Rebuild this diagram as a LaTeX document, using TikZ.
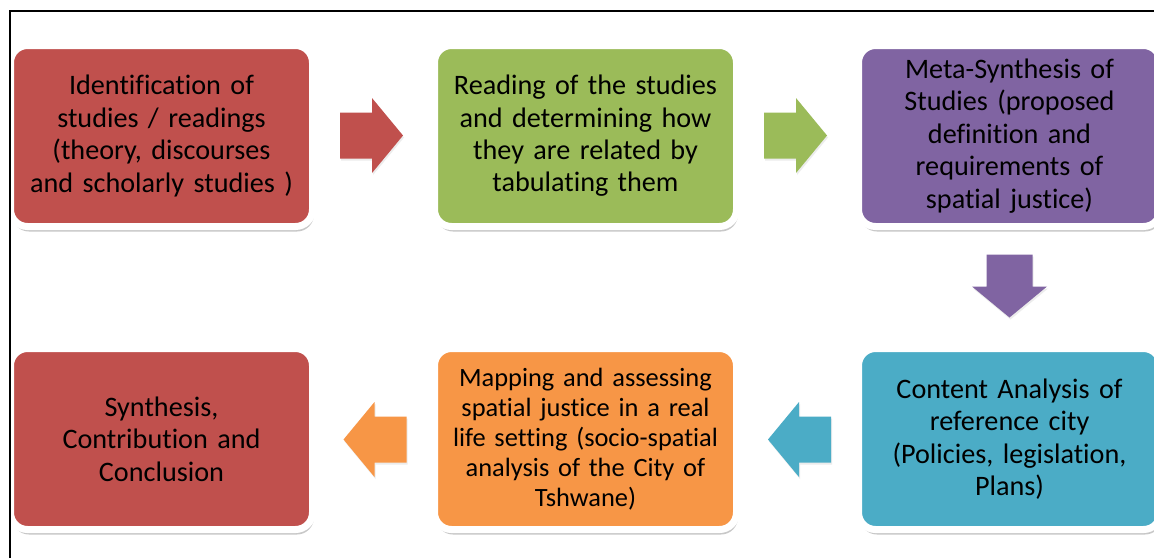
\documentclass[tikz,border=0pt]{standalone}
\usepackage{fontspec}
\setmainfont[Ligatures={NoCommon}]{Carlito}
\usetikzlibrary{shadows}
\definecolor{cred}{HTML}{C0504D}
\definecolor{cgreen}{HTML}{9BBB59}
\definecolor{cpurple}{HTML}{8064A2}
\definecolor{cteal}{HTML}{4BACC6}
\definecolor{corange}{HTML}{F79646}
\tikzset{
  box/.style={rectangle, rounded corners=17pt, draw=white, line width=7pt,
    minimum width=302pt, minimum height=181pt, inner sep=0pt, align=center,
    text width=295pt, font=\fontsize{28.2}{32.4}\selectfont,
    drop shadow={shadow xshift=1.5pt, shadow yshift=-5pt, opacity=0.3, fill=black!70}},
  barrow/.pic={\fill[pic actions, drop shadow={shadow xshift=1pt, shadow yshift=-2pt, opacity=0.15}]
     (-31.5,-23) -- (0.5,-23) -- (0.5,-37.5) -- (31.5,0) -- (0.5,37.5) -- (0.5,23) -- (-31.5,23) -- cycle;}
}
\begin{document}
\begin{tikzpicture}[x=1pt,y=-1pt]
\useasboundingbox (0,0) rectangle (1154,558);
\clip (0,0) rectangle (1154,558);
\fill[white] (0,0) rectangle (1154,558);

\node[box, fill=cred] (b1) at (161.5,136) {Identification of\\studies / readings\\(theory, discourses\\and scholarly studies )};
\node[box, fill=cgreen] (b2) at (585.5,136) {Reading of the studies\\and determining how\\they are related by\\tabulating them};
\node[box, fill=cpurple] (b3) at (1009.5,136) {Meta-Synthesis of\\Studies (proposed\\definition and\\requirements of\\spatial justice)};
\node[box, fill=cteal] (b4) at (1009.5,439) {Content Analysis of\\reference city\\(Policies, legislation,\\Plans)};
\node[box, fill=corange, font=\fontsize{26.4}{30}\selectfont] (b5) at (585.5,439) {Mapping and assessing\\spatial justice in a real\\life setting (socio-spatial\\analysis of the City of\\Tshwane)};
\node[box, fill=cred] (b6) at (161.5,439) {Synthesis,\\Contribution and\\Conclusion};

\pic[fill=cred] (a1) at (371.5,135.5) {barrow};
\pic[fill=cgreen] (a2) at (795.5,135.5) {barrow};
\pic[fill=cpurple, rotate=-90] (a3) at (1009.5,286) {barrow};
\pic[fill=cteal, rotate=180] (a4) at (799.5,439.5) {barrow};
\pic[fill=corange, rotate=180] (a5) at (375,439.5) {barrow};

\draw[line width=2pt] (10,558) -- (10,10.5) -- (1154,10.5);
\end{tikzpicture}
\end{document}
